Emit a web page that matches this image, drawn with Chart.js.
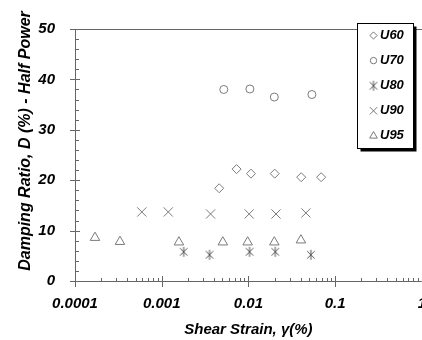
<!DOCTYPE html>
<html>
<head>
<meta charset="utf-8">
<script src="https://cdn.jsdelivr.net/npm/chart.js@4.4.0/dist/chart.umd.min.js"></script>
<style>
  html, body { margin: 0; padding: 0; background: #fff; overflow: hidden; }
  #wrap { width: 440px; height: 340px; }
</style>
</head>
<body>
<div id="wrap"><canvas id="myChart" width="440" height="340"></canvas></div>
<script>
// data
const seriesNames = ['U60', 'U70', 'U80', 'U90', 'U95'];
const u60X = [0.0046, 0.0073, 0.0107, 0.0201, 0.0406, 0.069];
const u60Y = [18.4, 22.2, 21.3, 21.3, 20.6, 20.6];
const u70X = [0.0052, 0.0104, 0.0199, 0.054];
const u70Y = [38.0, 38.1, 36.5, 37.0];
const u80X = [0.00179, 0.00356, 0.0103, 0.0204, 0.0525];
const u80Y = [5.8, 5.2, 5.8, 5.8, 5.2];
const u90X = [0.00059, 0.00119, 0.00366, 0.0102, 0.0208, 0.046];
const u90Y = [13.7, 13.7, 13.3, 13.3, 13.3, 13.5];
const u95X = [0.00017, 0.00033, 0.00158, 0.00507, 0.0098, 0.0199, 0.0403];
const u95Y = [8.6, 7.8, 7.7, 7.7, 7.7, 7.7, 8.1];

const xTickValues = [0.0001, 0.001, 0.01, 0.1, 1];
const xTickLabels = ['0.0001', '0.001', '0.01', '0.1', '1'];
const yTickValues = [0, 10, 20, 30, 40, 50];
const yTitle = 'Damping Ratio, D (%) - Half Power'
const xTitle = 'Shear Strain, γ(%)'

const fontFam = '"Liberation Sans", Arial, sans-serif'
const axisColor = '#666'
const markColor = '#7a7a7a'

// six-ray asterisk for U80
function asteriskImg(r, color) {
    const c = document.createElement('canvas')
    c.width = 2 * r + 2
    c.height = 2 * r + 2
    const g = c.getContext('2d')
    const m = r + 1
    g.strokeStyle = color
    g.lineWidth = 1
    g.beginPath()
    g.moveTo(m, m - r); g.lineTo(m, m + r)
    g.moveTo(m - r * 0.75, m - r * 0.75); g.lineTo(m + r * 0.75, m + r * 0.75)
    g.moveTo(m + r * 0.75, m - r * 0.75); g.lineTo(m - r * 0.75, m + r * 0.75)
    g.stroke()
    return c
}
const starImg = asteriskImg(5, '#555')

function pts(xs, ys) {
    return xs.map((x, i) => ({ x: x, y: ys[i] }))
}

const styles = [
    { pointStyle: 'rectRot', radius: 4.5 },
    { pointStyle: 'circle', radius: 4 },
    { pointStyle: starImg, radius: 5 },
    { pointStyle: 'crossRot', radius: 6.5 },
    { pointStyle: 'triangle', radius: 5.5 }
]
const allData = [pts(u60X, u60Y), pts(u70X, u70Y), pts(u80X, u80Y), pts(u90X, u90Y), pts(u95X, u95Y)]

const datasets = seriesNames.map((name, i) => ({
    label: name,
    data: allData[i],
    showLine: false,
    pointStyle: styles[i].pointStyle,
    pointRadius: styles[i].radius,
    pointHoverRadius: styles[i].radius,
    pointBorderColor: markColor,
    pointBackgroundColor: 'rgba(0,0,0,0)',
    pointBorderWidth: 1
}))

// axes, ticks, top line, y title and legend box drawn by hand
const framePlugin = {
    id: 'frame',
    afterDraw(chart) {
        const ctx = chart.ctx
        const a = chart.chartArea
        const xs = chart.scales.x
        const ys = chart.scales.y
        ctx.save()
        ctx.strokeStyle = axisColor
        ctx.lineWidth = 1
        ctx.beginPath()
        ctx.moveTo(a.left + 0.5, a.top)
        ctx.lineTo(a.left + 0.5, a.bottom)
        ctx.moveTo(a.left - 5, a.bottom + 0.5)
        ctx.lineTo(a.right, a.bottom + 0.5)
        ctx.moveTo(a.left - 5, a.top + 0.5)
        ctx.lineTo(chart.width, a.top + 0.5)
        // y ticks
        for (let v = 0; v <= 50; v += 2) {
            const py = Math.round(ys.getPixelForValue(v)) + 0.5
            if (v % 10 === 0) {
                ctx.moveTo(a.left - 5, py); ctx.lineTo(a.left + 5, py)
            } else {
                ctx.moveTo(a.left, py); ctx.lineTo(a.left + 4, py)
            }
        }
        // x ticks
        xTickValues.forEach((d, k) => {
            const px = Math.round(xs.getPixelForValue(d)) + 0.5
            ctx.moveTo(px, a.bottom - 5); ctx.lineTo(px, a.bottom + 6)
            if (k < xTickValues.length - 1) {
                for (let m = 2; m <= 9; m++) {
                    const qx = Math.round(xs.getPixelForValue(d * m)) + 0.5
                    ctx.moveTo(qx, a.bottom - 3); ctx.lineTo(qx, a.bottom + 1)
                }
            }
        })
        ctx.stroke()

        // y title
        ctx.save()
        ctx.translate(26, 141)
        ctx.rotate(-Math.PI / 2)
        ctx.font = 'italic bold 16px ' + fontFam
        ctx.fillStyle = '#000'
        ctx.textAlign = 'center'
        ctx.textBaseline = 'middle'
        ctx.fillText(yTitle, 0, 0)
        ctx.restore()

        // legend
        const bx = 357.5, by = 23.5, bw = 56, bh = 125
        ctx.fillStyle = '#000'
        ctx.fillRect(bx + 3, by + 3, bw, bh)
        ctx.fillStyle = '#fff'
        ctx.fillRect(bx, by, bw, bh)
        ctx.strokeStyle = '#000'
        ctx.strokeRect(bx, by, bw, bh)
        ctx.font = 'italic bold 13px ' + fontFam
        ctx.textBaseline = 'middle'
        ctx.textAlign = 'left'
        seriesNames.forEach((name, i) => {
            const ry = 35.5 + i * 25.1
            ctx.strokeStyle = markColor
            ctx.fillStyle = 'rgba(0,0,0,0)'
            ctx.lineWidth = 1
            Chart.helpers.drawPoint(ctx, {
                pointStyle: styles[i].pointStyle,
                radius: styles[i].radius * 0.8,
                rotation: 0,
                borderWidth: 1
            }, 373.5, ry)
            ctx.fillStyle = '#000'
            ctx.fillText(name, 380, ry)
        })
        ctx.restore()
    }
}

const config = {
    type: 'scatter',
    data: { datasets: datasets },
    options: {
        responsive: false,
        animation: false,
        events: [],
        layout: { padding: { left: 0, top: 15, right: 17, bottom: 0 } },
        plugins: { legend: { display: false }, tooltip: { enabled: false } },
        scales: {
            x: {
                type: 'logarithmic',
                min: 0.0001,
                max: 1,
                afterBuildTicks: s => { s.ticks = xTickValues.map(v => ({ value: v })) },
                afterFit: s => { s.height = 59 },
                grid: { display: false, drawTicks: false },
                border: { display: false },
                ticks: {
                    padding: 14,
                    color: '#000',
                    maxRotation: 0,
                    autoSkip: false,
                    font: { family: fontFam, size: 15, weight: 'bold', style: 'italic' },
                    callback: (v, i) => xTickLabels[i]
                },
                title: {
                    display: true,
                    text: xTitle,
                    color: '#000',
                    padding: { top: 0, bottom: 1 },
                    font: { family: fontFam, size: 15, weight: 'bold', style: 'italic' }
                }
            },
            y: {
                min: 0,
                max: 50,
                afterBuildTicks: s => { s.ticks = yTickValues.map(v => ({ value: v })) },
                afterFit: s => { s.width = 75 },
                grid: { display: false, drawTicks: false },
                border: { display: false },
                ticks: {
                    padding: 20,
                    color: '#000',
                    font: { family: fontFam, size: 15, weight: 'bold', style: 'italic' }
                },
                title: { display: false }
            }
        }
    },
    plugins: [framePlugin]
}

new Chart(document.getElementById('myChart'), config)
</script>
</body>
</html>
